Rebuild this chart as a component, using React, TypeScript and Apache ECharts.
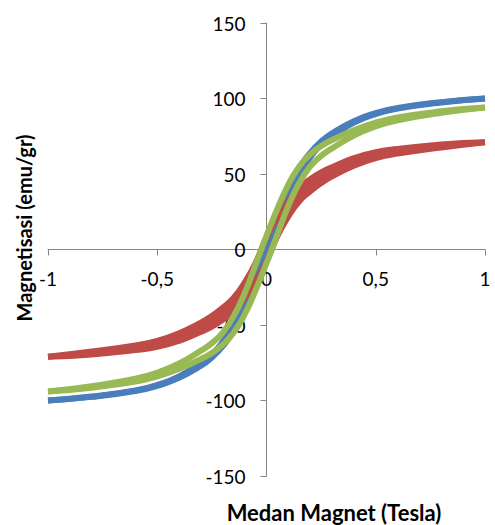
import React, { useEffect, useRef } from "react";
import * as echarts from "echarts";

const fieldX = [-1, -0.8, -0.6, -0.5, -0.4, -0.3, -0.25, -0.2, -0.15, -0.1, -0.05, 0, 0.05, 0.1, 0.15, 0.2, 0.25, 0.3, 0.4, 0.5, 0.6, 0.8, 1];

const blueUpper = [-100, -97.4, -93.3, -89.7, -84, -75, -69.5, -61, -50, -36, -18, 3, 23, 40, 54, 64, 71.5, 77, 85, 90.3, 93.7, 97.6, 100];
const blueLower = [-100, -97.6, -93.7, -90.3, -85, -77, -71.5, -64, -54, -40, -23, -3, 18, 36, 50, 61, 69.5, 75, 84, 89.7, 93.3, 97.4, 100];

const redUpper = [-71, -67.5, -63.5, -60.5, -55.5, -48.5, -44, -38.5, -32, -22, -9, 8, 21, 32, 41, 46.5, 51, 54.5, 60.5, 64.5, 66.5, 69.5, 71];
const redLower = [-71, -69.5, -66.5, -64.5, -60.5, -54.5, -51, -46.5, -41, -32, -21, -8, 9, 22, 32, 38.5, 44, 48.5, 55.5, 60.5, 63.5, 67.5, 71];

const greenUpper = [-94, -90.5, -85.5, -81.5, -75.5, -67, -62, -55, -44, -29, -10, 9, 27, 43, 55, 63, 68.5, 72.5, 79, 84, 87.5, 91.5, 94];
const greenLower = [-94, -91.5, -87.5, -84, -79, -72.5, -68.5, -63, -55, -43, -27, -9, 10, 29, 44, 55, 62, 67, 75.5, 81.5, 85.5, 90.5, 94];

const xTitle = "Medan Magnet (Tesla)";
const yTitle = "Magnetisasi (emu/gr)";

const FONT = "Lato, 'Open Sans', sans-serif";

const BLUE = "#4a7ebb";
const RED = "#be4b48";
const GREEN = "#98b954";

const GRID_LEFT = 48;
const GRID_RIGHT = 10;
const GRID_TOP = 23;
const GRID_BOTTOM = 49;
const W = 495;
const H = 525;
// axes cross at the data origin (middle of both ranges)
const Y_AXIS_OFFSET = -((W - GRID_LEFT - GRID_RIGHT) / 2);
const X_AXIS_OFFSET = -((H - GRID_TOP - GRID_BOTTOM) / 2);

function pairs(ys: number[]) {
  return fieldX.map((x, i) => [x, ys[i]]);
}

export default function App() {
  const ref = useRef<HTMLDivElement>(null);
  useEffect(() => {
    if (!ref.current) return;
    const chart = echarts.init(ref.current, null, { renderer: "svg" });
    const mk = (name: string, ys: number[], color: string) => ({
      name,
      type: "line",
      data: pairs(ys),
      smooth: true,
      showSymbol: false,
      symbol: "none",
      lineStyle: { color, width: 6 },
      itemStyle: { color },
    });
    // filled band between the two branches of a loop
    const band = (name: string, up: number[], low: number[], color: string) => ({
      name,
      type: "custom",
      data: [[0, 0]],
      silent: true,
      renderItem: (_params: any, api: any) => {
        const ptsUp = pairs(up);
        const ptsLow = pairs(low).slice(1, -1).reverse();
        const pts = ptsUp.concat(ptsLow).map((p) => api.coord(p));
        return {
          type: "polygon",
          shape: { points: pts },
          style: { fill: color, stroke: "none" },
        };
      },
    });
    chart.setOption({
      animation: false,
      backgroundColor: "#ffffff",
      grid: {
        left: GRID_LEFT,
        right: GRID_RIGHT,
        top: GRID_TOP,
        bottom: GRID_BOTTOM,
        containLabel: false,
        outerBoundsMode: "none",
      },
      xAxis: {
        type: "value",
        min: -1,
        max: 1,
        interval: 0.5,
        position: "bottom",
        offset: X_AXIS_OFFSET,
        axisLine: { onZero: false, lineStyle: { color: "#868686", width: 1 } },
        axisTick: { show: true, length: 6, lineStyle: { color: "#868686" } },
        splitLine: { show: false },
        axisLabel: {
          formatter: (v: number) => String(v).replace(".", ","),
          fontSize: 19,
          color: "#000",
          margin: 19,
          fontFamily: FONT,
          showMinLabel: true,
          showMaxLabel: true,
        },
      },
      yAxis: {
        type: "value",
        min: -150,
        max: 150,
        interval: 50,
        position: "left",
        offset: Y_AXIS_OFFSET,
        axisLine: { onZero: false, lineStyle: { color: "#868686", width: 1 } },
        axisTick: { show: true, length: 6, lineStyle: { color: "#868686" } },
        splitLine: { show: false },
        axisLabel: {
          fontSize: 19,
          color: "#000",
          margin: 21,
          fontFamily: FONT,
          showMinLabel: true,
          showMaxLabel: true,
        },
      },
      graphic: [
        {
          type: "text",
          x: 334,
          y: 512,
          style: {
            text: xTitle,
            font: `bold 22px ${FONT}`,
            fill: "#000",
            align: "center",
            verticalAlign: "middle",
          },
        },
        {
          type: "text",
          x: 24,
          y: 228,
          rotation: Math.PI / 2,
          style: {
            text: yTitle,
            font: `bold 20px ${FONT}`,
            fill: "#000",
            align: "center",
            verticalAlign: "middle",
          },
        },
      ],
      series: [
        band("red-band", redUpper, redLower, RED),
        mk("blue-up", blueUpper, BLUE),
        mk("blue-down", blueLower, BLUE),
        mk("red-up", redUpper, RED),
        mk("red-down", redLower, RED),
        mk("green-up", greenUpper, GREEN),
        mk("green-down", greenLower, GREEN),
      ],
    });
    return () => chart.dispose();
  }, []);
  return (
    <div
      ref={ref}
      style={{ position: "fixed", left: 0, top: 0, width: W, height: H }}
    />
  );
}
